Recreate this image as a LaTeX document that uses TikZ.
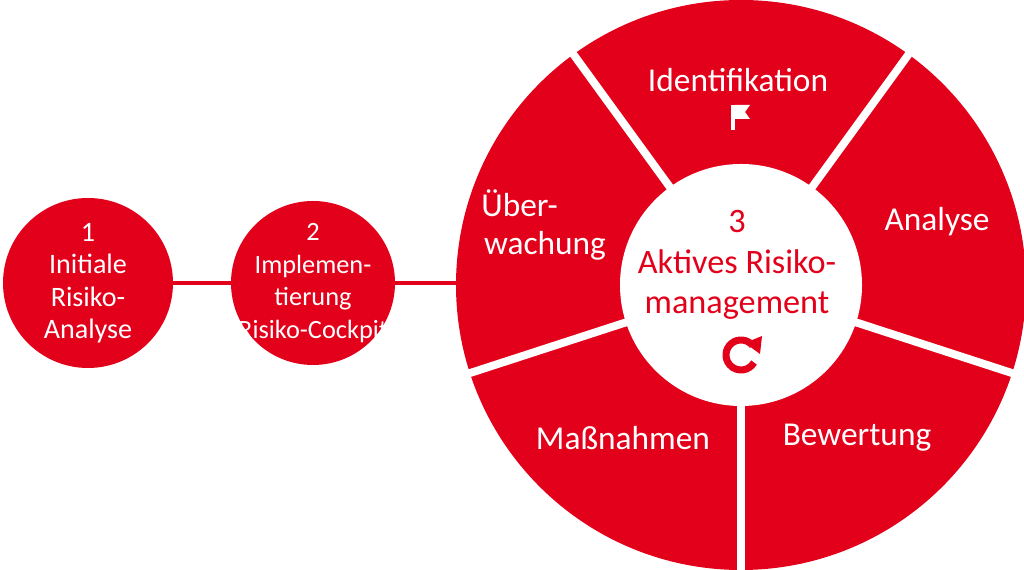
\documentclass[tikz,border=0pt]{standalone}
\usepackage{fontspec}
\setmainfont{Carlito}
\usepackage{tikz}
\usetikzlibrary{calc}
\definecolor{rmred}{HTML}{E2001A}
\tikzset{
    seglabel/.style={text=white, font=\fontsize{19}{22}\selectfont, align=center},
    steplabel/.style={text=white, font=\fontsize{16}{18.5}\selectfont, align=center},
    stepcircle/.style={shape=circle, fill=rmred, draw=none},
}
\begin{document}
\begin{tikzpicture}[x=0.02cm, y=0.02cm]
            \useasboundingbox (0,0) rectangle (1024,570);
            \coordinate (Center) at (741,285);
            \draw[rmred, line width=2.5pt] (170,287) -- (460,287);
            \fill[rmred] (Center) circle (285);
            \foreach \a in {54,126,198,270,342} {
                \draw[white, line width=4.5pt] ($(Center)+(\a:110)$) -- ($(Center)+(\a:300)$);
            }
            \fill[white] (Center) circle (121);
            \node[stepcircle, minimum size=170*0.02cm] (Step1) at (88,287) {};
            \node[stepcircle, minimum size=164*0.02cm] (Step2) at (313,287) {};
            \node[steplabel] at (Step1) {1\\Initiale\\Risiko-\\Analyse};
            \node[steplabel, font=\fontsize{15}{18.5}\selectfont] at (Step2) {2\\Implemen-\\tierung\\Risiko-Cockpit};
            \node[seglabel] (Identifikation) at (738,490) {Identifikation};
            \node[seglabel] (Analyse) at (937,348) {Analyse};
            \node[seglabel] (Bewertung) at (857,132) {Bewertung};
            \node[seglabel] (Massnahmen) at (623,132) {Maßnahmen};
            \node[seglabel] (Ueberwachung) at (545,345) {Über-\phantom{ung}\\wachung};
            \node[text=rmred, font=\fontsize{19.5}{23}\selectfont, align=center] (Aktiv) at (737,305) {3\\Aktives Risiko-\\management};
            % flag icon
            \fill[white] (731,440) rectangle (735,465);
            \fill[white] (735,465) -- (750,465) -- (745,458) -- (750,451) -- (735,451) -- cycle;
            % refresh icon
            \draw[rmred, line width=4pt] ($(741,215)+(40:15)$) arc (40:330:15);
            \fill[rmred] (745,227) -- (762,234) -- (760,216) -- cycle;
\end{tikzpicture}
\end{document}
